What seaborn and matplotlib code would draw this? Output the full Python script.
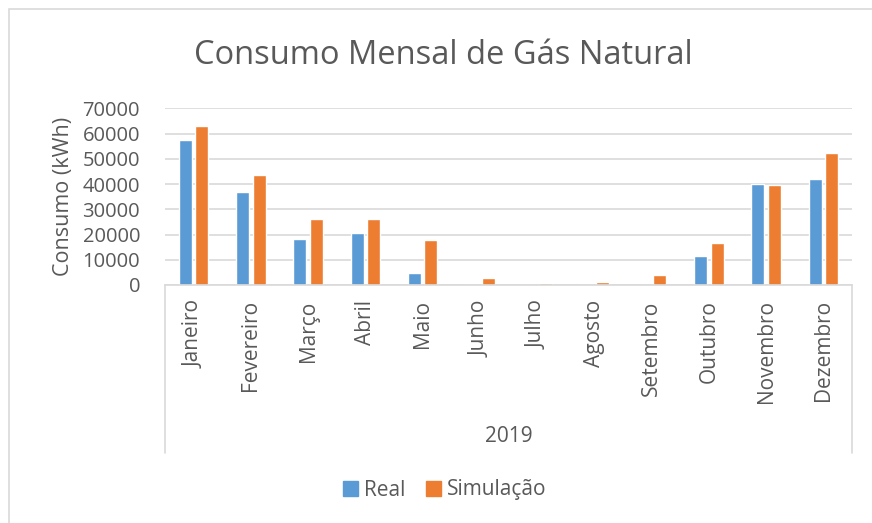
import pandas as pd
import matplotlib.pyplot as plt
import matplotlib.patches as mpatches
from matplotlib.lines import Line2D
import seaborn as sns

# dados
meses = ['Janeiro', 'Fevereiro', 'Março', 'Abril', 'Maio', 'Junho', 'Julho',
         'Agosto', 'Setembro', 'Outubro', 'Novembro', 'Dezembro']
real = [57500, 37000, 18100, 20600, 4700, 0, 0, 0, 0, 11600, 40200, 41800]
simulacao = [63000, 43700, 26300, 26000, 17900, 2800, 600, 1000, 4100, 16700, 39800, 52100]
ano = '2019'

dados = pd.DataFrame({
    'Mês': meses * 2,
    'Série': ['Real'] * len(meses) + ['Simulação'] * len(meses),
    'Consumo': real + simulacao,
})

sns.set_style('white')
plt.rcParams['font.family'] = ['Open Sans', 'DejaVu Sans']
cor_texto = '#595959'
cor_grade = '#D9D9D9'
cores = {'Real': '#5B9BD5', 'Simulação': '#ED7D31'}

W, H = 872, 523
fig = plt.figure(figsize=(W / 100, H / 100), dpi=100)
x0, x1, y0, y1 = 165, 852, 285, 108.3
ax = fig.add_axes([x0 / W, 1 - y0 / H, (x1 - x0) / W, (y0 - y1) / H])

sns.barplot(data=dados, x='Mês', y='Consumo', hue='Série', palette=cores,
            width=0.575, gap=0.2, ax=ax, legend=False, saturation=1)

ax.set_ylim(0, 70000)
ax.set_xlim(-0.5, len(meses) - 0.5)
ax.set_yticks(range(0, 70001, 10000))
ax.yaxis.grid(True, color=cor_grade, linewidth=1.2)
ax.set_axisbelow(True)
for lado in ['top', 'right', 'left']:
    ax.spines[lado].set_visible(False)
ax.spines['bottom'].set_color(cor_grade)
ax.spines['bottom'].set_linewidth(1.2)
ax.tick_params(axis='both', length=0, colors=cor_texto)
ax.tick_params(axis='x', rotation=90, pad=11, labelsize=15)
ax.tick_params(axis='y', pad=18, labelsize=14.5)
for t in ax.get_xticklabels():
    t.set_verticalalignment('top')
ax.set_xlabel('')
ax.set_ylabel('Consumo (kWh)', fontsize=15.5, color=cor_texto, labelpad=6)

# caixa do eixo de categorias
for xp in (x0, x1):
    fig.add_artist(Line2D([xp / W, xp / W], [1 - y0 / H, 1 - 453 / H],
                          color=cor_grade, linewidth=1.2))
fig.text((x0 + x1) / 2 / W, 1 - 437 / H, ano, ha='center', va='center',
         fontsize=15, color=cor_texto)

fig.text(443 / W, 1 - 55 / H, 'Consumo Mensal de Gás Natural', ha='center',
         va='center', fontsize=23.5, color=cor_texto)

# borda do gráfico
fig.add_artist(mpatches.Rectangle((9 / W, -0.1), 1, 1 - 9 / H + 0.1,
                                  transform=fig.transFigure, fill=False,
                                  edgecolor=cor_grade, linewidth=1.2))

handles = [mpatches.Patch(color=cores[s], label=s) for s in cores]
fig.legend(handles=handles, loc='center', bbox_to_anchor=(445 / W, 1 - 490 / H),
           ncol=2, frameon=False, fontsize=15, handlelength=0.7,
           handleheight=0.7, handletextpad=0.3, columnspacing=1.0,
           labelcolor=cor_texto)

fig.savefig('out.png', dpi=100)
